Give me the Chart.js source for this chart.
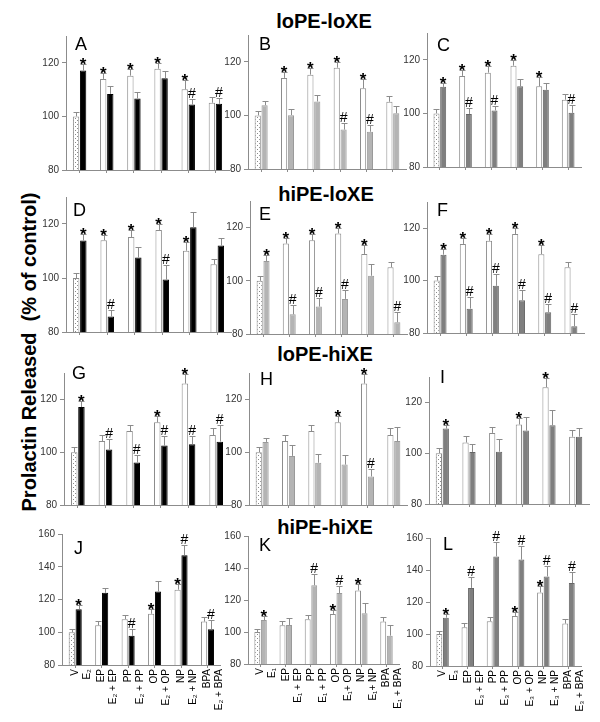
<!DOCTYPE html>
<html><head><meta charset="utf-8">
<script src="https://cdn.jsdelivr.net/npm/chart.js@4.4.1/dist/chart.umd.min.js"></script>
<style>
body{margin:0;background:#fff;width:600px;height:722px;position:relative;overflow:hidden;font-family:Arial,'Liberation Sans',sans-serif}
canvas{position:absolute}
.title{position:absolute;font-weight:bold;font-size:20px;color:#000;transform:translate(-50%,-50%);white-space:nowrap;line-height:1}
.letter{position:absolute;font-size:18px;line-height:1;color:#000}
#ytitle{position:absolute;left:29px;top:352px;font-weight:bold;font-size:20px;white-space:pre;line-height:1;transform:translate(-50%,-50%) rotate(-90deg)}
</style></head><body>
<div class="title" style="left:324px;top:21px">loPE-loXE</div>
<div class="title" style="left:326px;top:194px">hiPE-loXE</div>
<div class="title" style="left:325px;top:354px">loPE-hiXE</div>
<div class="title" style="left:325px;top:527px">hiPE-hiXE</div>
<div id="ytitle">Prolactin Released  (% of control)</div>
<script>
// ---------- data ----------
const categories = ["V", "EP", "PP", "OP", "NP", "BPA"];
const labelsJ = [["V","E₂"],["EP","E₂ + EP"],["PP","E₂ + PP"],["OP","E₂ + OP"],["NP","E₂ + NP"],["BPA","E₂ + BPA"]];
const labelsK = [["V","E₁"],["EP","E₁ + EP"],["PP","E₁ + PP"],["OP","E₁+ OP"],["NP","E₁+ NP"],["BPA","E₁ + BPA"]];
const labelsL = [["V","E₃"],["EP","E₃ + EP"],["PP","E₃ + PP"],["OP","E₃ + OP"],["NP","E₃ + NP"],["BPA","E₃ + BPA"]];

// control (white) bars, loXE rows and hiXE rows
const ctrlLoXE = [100, 114.0, 115.2, 117.8, 110.1, 105.1];
const errCtrlLoXE = [1.8, 2.1, 2.4, 2.2, 3.4, 2.1];
const markCtrlLoXE = ["", "*", "*", "*", "*", ""];
const ctrlHiXE = [100, 104.2, 108.0, 111.3, 126.0, 106.5];
const errCtrlHiXE = [1.9, 2.5, 2.4, 2.6, 3.7, 2.6];
const markCtrlHiXE = ["", "", "", "*", "*", ""];

// treated bars per panel
const valA = [117.1, 108.4, 106.7, 114.2, 104.4, 104.7];
const errA = [2.4, 2.8, 2.3, 2.9, 2.1, 2.3];
const markA = ["*", "", "", "", "#", "#"];
const valB = [103.8, 100.1, 105.2, 94.7, 93.9, 100.8];
const errB = [1.5, 2.3, 2.3, 2.3, 2.7, 2.7];
const markB = ["", "", "", "#", "#", ""];
const valC = [109.9, 99.8, 101.1, 110.1, 108.8, 100.2];
const errC = [1.4, 2.3, 1.8, 2.7, 2.4, 3.0];
const markC = ["*", "#", "#", "", "", "#"];
const valD = [113.9, 85.7, 107.6, 99.4, 118.8, 112.0];
const errD = [2.5, 2.3, 4.0, 5.3, 5.8, 2.8];
const markD = ["*", "#", "", "#", "", ""];
const valE = [107.4, 87.4, 90.3, 93.2, 101.9, 84.4];
const errE = [2.2, 3.6, 3.3, 3.2, 4.3, 3.9];
const markE = ["*", "#", "#", "#", "", "#"];
const valF = [109.9, 89.3, 98.0, 92.5, 87.9, 82.6];
const errF = [2.1, 4.3, 4.5, 4.1, 3.1, 4.6];
const markF = ["*", "#", "#", "#", "#", "#"];
const valG = [117.1, 101.0, 96.1, 102.5, 103.0, 104.0];
const errG = [2.4, 4.0, 3.0, 3.7, 3.0, 6.4];
const markG = ["*", "#", "#", "#", "#", "#"];
const valH = [103.9, 98.6, 96.0, 95.3, 90.8, 104.2];
const errH = [1.6, 4.3, 3.4, 3.7, 3.0, 5.2];
const markH = ["", "", "", "", "#", ""];
const valI = [109.7, 100.5, 100.6, 108.9, 111.0, 106.5];
const errI = [1.5, 3.1, 4.9, 5.4, 6.2, 3.4];
const markI = ["*", "", "", "", "", ""];
const valJ = [114.1, 124.1, 97.8, 124.9, 147.0, 101.8];
const errJ = [2.4, 3.2, 4.0, 6.1, 6.5, 5.5];
const markJ = ["*", "", "#", "", "#", "#"];
const valK = [107.5, 104.4, 129.2, 124.4, 111.7, 97.7];
const errK = [2.5, 4.1, 6.8, 4.1, 6.2, 6.7];
const markK = ["*", "", "#", "#", "", ""];
const valL = [110.2, 128.8, 148.5, 146.5, 136.0, 131.8];
const errL = [2.1, 7.1, 9.0, 8.7, 6.7, 7.0];
const markL = ["*", "#", "#", "#", "#", "#"];

// ---------- layout / style ----------
const BLACK = "#000000", LIGHT = "#b4b4b4", DARK = "#7f7f7f";
const PANELS = [
  {L:"A", box:[66,36,229,173],  max:130, v:valA, e:errA, m:markA, c:BLACK, ctrl:0, lt:[75,37]},
  {L:"B", box:[248,35,406,172], max:130, v:valB, e:errB, m:markB, c:LIGHT, ctrl:0, lt:[259,37]},
  {L:"C", box:[427,33,581,170], max:130, v:valC, e:errC, m:markC, c:DARK,  ctrl:0, lt:[437,38]},
  {L:"D", box:[66,197,231,335], max:130, v:valD, e:errD, m:markD, c:BLACK, ctrl:0, lt:[73,203]},
  {L:"E", box:[250,201,407,337],max:130, v:valE, e:errE, m:markE, c:LIGHT, ctrl:0, lt:[259,207]},
  {L:"F", box:[427,202,584,336],max:130, v:valF, e:errF, m:markF, c:DARK,  ctrl:0, lt:[437,203]},
  {L:"G", box:[64,373,230,508], max:130, v:valG, e:errG, m:markG, c:BLACK, ctrl:1, lt:[72,366]},
  {L:"H", box:[249,373,407,508],max:130, v:valH, e:errH, m:markH, c:LIGHT, ctrl:1, lt:[260,372]},
  {L:"I", box:[429,377,589,507],max:130, v:valI, e:errI, m:markI, c:DARK,  ctrl:1, lt:[440,370]},
  {L:"J", box:[62,534,227,665], max:160, v:valJ, e:errJ, m:markJ, c:BLACK, ctrl:1, lt:[74,541], labels:labelsJ},
  {L:"K", box:[248,536,406,664],max:160, v:valK, e:errK, m:markK, c:LIGHT, ctrl:1, lt:[259,538], labels:labelsK},
  {L:"L", box:[430,538,588,666],max:160, v:valL, e:errL, m:markL, c:DARK,  ctrl:1, lt:[443,537], labels:labelsL}
];
const FONT = "Arial, 'Liberation Sans', sans-serif";
Chart.defaults.font.family = FONT;

function makeStipple(){
  const c = document.createElement('canvas'); c.width = 4; c.height = 4;
  const x = c.getContext('2d');
  x.fillStyle = '#ffffff'; x.fillRect(0,0,4,4);
  x.fillStyle = '#8a8a8a'; x.fillRect(0,0,1,1); x.fillRect(2,2,1,1);
  return x.createPattern(c, 'repeat');
}
const stipple = makeStipple();

const errPlugin = {
  id: 'errbars',
  afterDatasetsDraw(chart){
    const ctx = chart.ctx, ys = chart.scales.y;
    chart.data.datasets.forEach((ds, di) => {
      const meta = chart.getDatasetMeta(di);
      meta.data.forEach((bar, i) => {
        const v = ds.data[i], e = ds.errors[i];
        const yBar = ys.getPixelForValue(v), yTop = Math.round(ys.getPixelForValue(v + e)) + 0.5;
        const x = Math.round(bar.x) + 0.5;
        ctx.save();
        ctx.strokeStyle = '#8c8c8c'; ctx.lineWidth = 1;
        ctx.beginPath();
        ctx.moveTo(x, yBar); ctx.lineTo(x, yTop);
        ctx.moveTo(x - 3, yTop); ctx.lineTo(x + 3, yTop);
        ctx.stroke();
        const mk = ds.marks[i];
        if (mk) {
          ctx.fillStyle = '#000'; ctx.textAlign = 'center'; ctx.textBaseline = 'alphabetic';
          if (mk === '*') { ctx.font = 'bold 17px ' + FONT; ctx.fillText('*', bar.x, yTop + 5); }
          else { ctx.font = '14px ' + FONT; ctx.fillText('#', bar.x, yTop - 2); }
        }
        ctx.restore();
      });
    });
  }
};

PANELS.forEach(p => {
  const [l, t, r, b] = p.box;
  const YW = 45, PT = 12, PR = 6;
  const xh = p.labels ? 56 : 6;
  const w = (r - l) + YW + PR, h = (b - t) + PT + xh;
  const cv = document.createElement('canvas');
  cv.width = w; cv.height = h;
  cv.style.left = (l - YW) + 'px'; cv.style.top = (t - PT) + 'px';
  cv.style.width = w + 'px'; cv.style.height = h + 'px';
  document.body.appendChild(cv);

  const letter = document.createElement('div');
  letter.className = 'letter'; letter.textContent = p.L;
  letter.style.left = p.lt[0] + 'px'; letter.style.top = (p.lt[1] - 2) + 'px';
  document.body.appendChild(letter);

  const ctrl = p.ctrl ? ctrlHiXE : ctrlLoXE;
  const ctrlErr = p.ctrl ? errCtrlHiXE : errCtrlLoXE;
  const ctrlMark = p.ctrl ? markCtrlHiXE : markCtrlLoXE;
  const labels = p.labels || categories;

  new Chart(cv, {
    type: 'bar',
    data: {
      labels: labels,
      datasets: [
        { data: ctrl, errors: ctrlErr, marks: ctrlMark,
          backgroundColor: ctrl.map((_, i) => i === 0 ? stipple : '#ffffff'),
          borderColor: '#8c8c8c', borderWidth: 1,
          categoryPercentage: 0.52, barPercentage: 0.9 },
        { data: p.v, errors: p.e, marks: p.m,
          backgroundColor: p.c, borderColor: p.c === BLACK ? '#000' : (p.c === LIGHT ? '#9a9a9a' : '#666666'), borderWidth: 1,
          categoryPercentage: 0.52, barPercentage: 0.9 }
      ]
    },
    options: {
      responsive: false, animation: false, devicePixelRatio: 1,
      layout: { padding: { left: 0, top: PT, right: PR, bottom: 0 } },
      plugins: { legend: { display: false }, tooltip: { enabled: false } },
      scales: {
        x: {
          grid: { display: true, drawOnChartArea: false, drawTicks: true, tickLength: 3, color: '#8c8c8c', offset: false },
          border: { color: '#8c8c8c' },
          ticks: { display: true, autoSkip: false, maxRotation: 90, minRotation: 90, font: { size: 10 }, color: '#000', padding: 1,
                   callback: function(val, idx){ return p.labels ? p.labels[idx] : ''; } },
          afterFit(s){ s.height = xh; }
        },
        y: {
          min: 80, max: p.max,
          grid: { display: true, drawOnChartArea: false, drawTicks: true, tickLength: 4, color: '#8c8c8c' },
          border: { color: '#8c8c8c' },
          ticks: { stepSize: 20, includeBounds: false, font: { size: 10 }, color: '#333', padding: 3 },
          afterFit(s){ s.width = YW; }
        }
      }
    },
    plugins: [errPlugin]
  });
});
</script>
</body></html>
